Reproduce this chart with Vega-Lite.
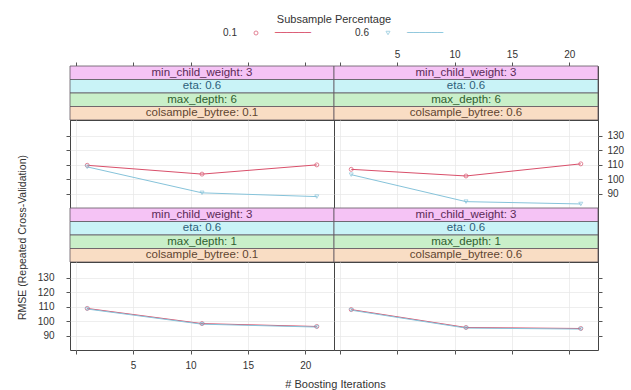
{
  "$schema": "https://vega.github.io/schema/vega-lite/v6.json",
  "padding": {"left": 16, "top": 14, "right": 8, "bottom": 2},
  "background": "white",
  "datasets": {
    "perf": [
      {"depth": 6, "colsample": 0.1, "subsample": "0.1", "iter": 1, "rmse": 109.6},
      {"depth": 6, "colsample": 0.1, "subsample": "0.1", "iter": 11, "rmse": 103.5},
      {"depth": 6, "colsample": 0.1, "subsample": "0.1", "iter": 21, "rmse": 109.9},
      {"depth": 6, "colsample": 0.1, "subsample": "0.6", "iter": 1, "rmse": 108.5},
      {"depth": 6, "colsample": 0.1, "subsample": "0.6", "iter": 11, "rmse": 90.5},
      {"depth": 6, "colsample": 0.1, "subsample": "0.6", "iter": 21, "rmse": 87.9},
      {"depth": 6, "colsample": 0.6, "subsample": "0.1", "iter": 1, "rmse": 106.8},
      {"depth": 6, "colsample": 0.6, "subsample": "0.1", "iter": 11, "rmse": 102.2},
      {"depth": 6, "colsample": 0.6, "subsample": "0.1", "iter": 21, "rmse": 110.6},
      {"depth": 6, "colsample": 0.6, "subsample": "0.6", "iter": 1, "rmse": 103.1},
      {"depth": 6, "colsample": 0.6, "subsample": "0.6", "iter": 11, "rmse": 84.4},
      {"depth": 6, "colsample": 0.6, "subsample": "0.6", "iter": 21, "rmse": 82.8},
      {"depth": 1, "colsample": 0.1, "subsample": "0.1", "iter": 1, "rmse": 108.8},
      {"depth": 1, "colsample": 0.1, "subsample": "0.1", "iter": 11, "rmse": 98.3},
      {"depth": 1, "colsample": 0.1, "subsample": "0.1", "iter": 21, "rmse": 96.3},
      {"depth": 1, "colsample": 0.1, "subsample": "0.6", "iter": 1, "rmse": 108.4},
      {"depth": 1, "colsample": 0.1, "subsample": "0.6", "iter": 11, "rmse": 97.9},
      {"depth": 1, "colsample": 0.1, "subsample": "0.6", "iter": 21, "rmse": 95.9},
      {"depth": 1, "colsample": 0.6, "subsample": "0.1", "iter": 1, "rmse": 108.0},
      {"depth": 1, "colsample": 0.6, "subsample": "0.1", "iter": 11, "rmse": 95.6},
      {"depth": 1, "colsample": 0.6, "subsample": "0.1", "iter": 21, "rmse": 94.9},
      {"depth": 1, "colsample": 0.6, "subsample": "0.6", "iter": 1, "rmse": 107.6},
      {"depth": 1, "colsample": 0.6, "subsample": "0.6", "iter": 11, "rmse": 95.2},
      {"depth": 1, "colsample": 0.6, "subsample": "0.6", "iter": 21, "rmse": 94.5}
    ],
    "strips": [
      {"depth": 6, "colsample": 0.1, "level": "min_child_weight", "label": "min_child_weight: 3"},
      {"depth": 6, "colsample": 0.1, "level": "eta", "label": "eta: 0.6"},
      {"depth": 6, "colsample": 0.1, "level": "max_depth", "label": "max_depth: 6"},
      {"depth": 6, "colsample": 0.1, "level": "colsample_bytree", "label": "colsample_bytree: 0.1"},
      {"depth": 6, "colsample": 0.6, "level": "min_child_weight", "label": "min_child_weight: 3"},
      {"depth": 6, "colsample": 0.6, "level": "eta", "label": "eta: 0.6"},
      {"depth": 6, "colsample": 0.6, "level": "max_depth", "label": "max_depth: 6"},
      {"depth": 6, "colsample": 0.6, "level": "colsample_bytree", "label": "colsample_bytree: 0.6"},
      {"depth": 1, "colsample": 0.1, "level": "min_child_weight", "label": "min_child_weight: 3"},
      {"depth": 1, "colsample": 0.1, "level": "eta", "label": "eta: 0.6"},
      {"depth": 1, "colsample": 0.1, "level": "max_depth", "label": "max_depth: 1"},
      {"depth": 1, "colsample": 0.1, "level": "colsample_bytree", "label": "colsample_bytree: 0.1"},
      {"depth": 1, "colsample": 0.6, "level": "min_child_weight", "label": "min_child_weight: 3"},
      {"depth": 1, "colsample": 0.6, "level": "eta", "label": "eta: 0.6"},
      {"depth": 1, "colsample": 0.6, "level": "max_depth", "label": "max_depth: 1"},
      {"depth": 1, "colsample": 0.6, "level": "colsample_bytree", "label": "colsample_bytree: 0.6"}
    ],
    "legend": [
      {"subsample": "0.1", "line": "──────"},
      {"subsample": "0.6", "line": "──────"}
    ]
  },
  "vconcat": [
    {
      "width": 528,
      "height": 16,
      "view": {"stroke": null},
      "title": {"text": "Subsample Percentage", "fontSize": 11, "fontWeight": "normal", "font": "Liberation Sans", "color": "#333", "anchor": "middle", "offset": 0},
      "data": {"name": "legend"},
      "encoding": {
        "x": {"field": "subsample", "type": "nominal", "scale": {"type": "band", "domain": ["0.1", "0.6"], "paddingInner": 0, "paddingOuter": 1.0625}, "axis": null},
        "color": {"field": "subsample", "type": "nominal", "scale": {"domain": ["0.1", "0.6"], "range": ["#D94F6A", "#86C3DA"]}, "legend": null}
      },
      "layer": [
        {"mark": {"type": "text", "dx": -38, "fontSize": 10, "font": "Liberation Sans", "color": "#333"}, "encoding": {"text": {"field": "subsample"}, "color": {"value": "#333"}}},
        {"mark": {"type": "point", "filled": false, "size": 16, "strokeWidth": 1, "xOffset": -12}, "encoding": {"shape": {"field": "subsample", "type": "nominal", "scale": {"domain": ["0.1", "0.6"], "range": ["circle", "triangle-down"]}, "legend": null}}},
        {"mark": {"type": "text", "dx": 7, "align": "left", "fontSize": 10, "font": "DejaVu Sans"}, "encoding": {"text": {"field": "line"}}}
      ]
    },
    {
      "columns": 2,
      "spacing": 0,
      "bounds": "flush",
      "resolve": {"scale": {"color": "independent", "fill": "independent", "shape": "independent", "x": "independent", "y": "independent"}},
      "concat": [
        {
          "width": 264, "height": 54,
          "data": {"name": "strips"},
          "transform": [{"filter": "datum.depth == 6 && datum.colsample == 0.1"}],
          "encoding": {"y": {"field": "level", "type": "nominal", "scale": {"domain": ["min_child_weight", "eta", "max_depth", "colsample_bytree"], "paddingInner": 0, "paddingOuter": 0}, "axis": null}},
          "layer": [
            {"mark": {"type": "rect", "stroke": "#5f5560", "strokeWidth": 0.8}, "encoding": {"fill": {"field": "level", "type": "nominal", "scale": {"domain": ["min_child_weight", "eta", "max_depth", "colsample_bytree"], "range": ["#F5C3F5", "#C9F3F7", "#C9EFC9", "#F9DDC4"]}, "legend": null}}},
            {"mark": {"type": "text", "fontSize": 11.5, "font": "Liberation Sans"}, "encoding": {
              "x": {"datum": 11, "type": "quantitative", "scale": {"domain": [-0.5, 22.5], "nice": false, "zero": false}, "axis": {"orient": "top", "values": [0, 5, 10, 15, 20], "labels": false, "grid": false, "title": null}},
              "text": {"field": "label"},
              "color": {"field": "level", "type": "nominal", "scale": {"domain": ["min_child_weight", "eta", "max_depth", "colsample_bytree"], "range": ["#5B2A57", "#2E5F7A", "#2F602F", "#5F4530"]}, "legend": null}}}
          ]
        },
        {
          "width": 264, "height": 54,
          "data": {"name": "strips"},
          "transform": [{"filter": "datum.depth == 6 && datum.colsample == 0.6"}],
          "encoding": {"y": {"field": "level", "type": "nominal", "scale": {"domain": ["min_child_weight", "eta", "max_depth", "colsample_bytree"], "paddingInner": 0, "paddingOuter": 0}, "axis": null}},
          "layer": [
            {"mark": {"type": "rect", "stroke": "#5f5560", "strokeWidth": 0.8}, "encoding": {"fill": {"field": "level", "type": "nominal", "scale": {"domain": ["min_child_weight", "eta", "max_depth", "colsample_bytree"], "range": ["#F5C3F5", "#C9F3F7", "#C9EFC9", "#F9DDC4"]}, "legend": null}}},
            {"mark": {"type": "text", "fontSize": 11.5, "font": "Liberation Sans"}, "encoding": {
              "x": {"datum": 11, "type": "quantitative", "scale": {"domain": [-0.5, 22.5], "nice": false, "zero": false}, "axis": {"orient": "top", "values": [0, 5, 10, 15, 20], "labelExpr": "datum.value == 0 ? '' : datum.label", "labelPadding": 3, "grid": false, "title": null}},
              "text": {"field": "label"},
              "color": {"field": "level", "type": "nominal", "scale": {"domain": ["min_child_weight", "eta", "max_depth", "colsample_bytree"], "range": ["#5B2A57", "#2E5F7A", "#2F602F", "#5F4530"]}, "legend": null}}}
          ]
        },
        {
          "width": 264, "height": 88,
          "data": {"name": "perf"},
          "transform": [{"filter": "datum.depth == 6 && datum.colsample == 0.1"}],
          "encoding": {
            "x": {"field": "iter", "type": "quantitative", "scale": {"domain": [-0.5, 22.5], "nice": false, "zero": false}, "axis": {"values": [0, 5, 10, 15, 20], "grid": true, "ticks": false, "labels": false, "title": null}},
            "y": {"field": "rmse", "type": "quantitative", "scale": {"domain": [80, 141], "nice": false, "zero": false}, "axis": {"orient": "left", "values": [90, 100, 110, 120, 130], "grid": true, "labels": false, "title": null}},
            "color": {"field": "subsample", "type": "nominal", "scale": {"domain": ["0.1", "0.6"], "range": ["#D94F6A", "#86C3DA"]}, "legend": null}
          },
          "layer": [
            {"mark": {"type": "line", "strokeWidth": 1}},
            {"mark": {"type": "point", "filled": false, "size": 16, "strokeWidth": 1}, "encoding": {"shape": {"field": "subsample", "type": "nominal", "scale": {"domain": ["0.1", "0.6"], "range": ["circle", "triangle-down"]}, "legend": null}}}
          ]
        },
        {
          "width": 264, "height": 88,
          "data": {"name": "perf"},
          "transform": [{"filter": "datum.depth == 6 && datum.colsample == 0.6"}],
          "encoding": {
            "x": {"field": "iter", "type": "quantitative", "scale": {"domain": [-0.5, 22.5], "nice": false, "zero": false}, "axis": {"values": [0, 5, 10, 15, 20], "grid": true, "ticks": false, "labels": false, "title": null}},
            "y": {"field": "rmse", "type": "quantitative", "scale": {"domain": [80, 141], "nice": false, "zero": false}, "axis": {"orient": "right", "values": [90, 100, 110, 120, 130], "grid": true, "labelPadding": 5, "title": null}},
            "color": {"field": "subsample", "type": "nominal", "scale": {"domain": ["0.1", "0.6"], "range": ["#D94F6A", "#86C3DA"]}, "legend": null}
          },
          "layer": [
            {"mark": {"type": "line", "strokeWidth": 1}},
            {"mark": {"type": "point", "filled": false, "size": 16, "strokeWidth": 1}, "encoding": {"shape": {"field": "subsample", "type": "nominal", "scale": {"domain": ["0.1", "0.6"], "range": ["circle", "triangle-down"]}, "legend": null}}}
          ]
        },
        {
          "width": 264, "height": 54,
          "data": {"name": "strips"},
          "transform": [{"filter": "datum.depth == 1 && datum.colsample == 0.1"}],
          "encoding": {"y": {"field": "level", "type": "nominal", "scale": {"domain": ["min_child_weight", "eta", "max_depth", "colsample_bytree"], "paddingInner": 0, "paddingOuter": 0}, "axis": null}},
          "layer": [
            {"mark": {"type": "rect", "stroke": "#5f5560", "strokeWidth": 0.8}, "encoding": {"fill": {"field": "level", "type": "nominal", "scale": {"domain": ["min_child_weight", "eta", "max_depth", "colsample_bytree"], "range": ["#F5C3F5", "#C9F3F7", "#C9EFC9", "#F9DDC4"]}, "legend": null}}},
            {"mark": {"type": "text", "fontSize": 11.5, "font": "Liberation Sans"}, "encoding": {
              "text": {"field": "label"},
              "color": {"field": "level", "type": "nominal", "scale": {"domain": ["min_child_weight", "eta", "max_depth", "colsample_bytree"], "range": ["#5B2A57", "#2E5F7A", "#2F602F", "#5F4530"]}, "legend": null}}}
          ]
        },
        {
          "width": 264, "height": 54,
          "data": {"name": "strips"},
          "transform": [{"filter": "datum.depth == 1 && datum.colsample == 0.6"}],
          "encoding": {"y": {"field": "level", "type": "nominal", "scale": {"domain": ["min_child_weight", "eta", "max_depth", "colsample_bytree"], "paddingInner": 0, "paddingOuter": 0}, "axis": null}},
          "layer": [
            {"mark": {"type": "rect", "stroke": "#5f5560", "strokeWidth": 0.8}, "encoding": {"fill": {"field": "level", "type": "nominal", "scale": {"domain": ["min_child_weight", "eta", "max_depth", "colsample_bytree"], "range": ["#F5C3F5", "#C9F3F7", "#C9EFC9", "#F9DDC4"]}, "legend": null}}},
            {"mark": {"type": "text", "fontSize": 11.5, "font": "Liberation Sans"}, "encoding": {
              "text": {"field": "label"},
              "color": {"field": "level", "type": "nominal", "scale": {"domain": ["min_child_weight", "eta", "max_depth", "colsample_bytree"], "range": ["#5B2A57", "#2E5F7A", "#2F602F", "#5F4530"]}, "legend": null}}}
          ]
        },
        {
          "width": 264, "height": 88,
          "data": {"name": "perf"},
          "transform": [{"filter": "datum.depth == 1 && datum.colsample == 0.1"}],
          "encoding": {
            "x": {"field": "iter", "type": "quantitative", "scale": {"domain": [-0.5, 22.5], "nice": false, "zero": false}, "axis": {"orient": "bottom", "values": [0, 5, 10, 15, 20], "labelExpr": "datum.value == 0 ? '' : datum.label", "grid": true, "labelPadding": 6, "title": "# Boosting Iterations", "titleFontSize": 11, "titleX": 265, "titlePadding": 8}},
            "y": {"field": "rmse", "type": "quantitative", "scale": {"domain": [80, 141], "nice": false, "zero": false}, "axis": {"orient": "left", "values": [90, 100, 110, 120, 130], "grid": true, "labelPadding": 12, "title": "RMSE (Repeated Cross-Validation)", "titleFontSize": 10.5, "titleY": -25, "titlePadding": 10}},
            "color": {"field": "subsample", "type": "nominal", "scale": {"domain": ["0.1", "0.6"], "range": ["#D94F6A", "#86C3DA"]}, "legend": null}
          },
          "layer": [
            {"mark": {"type": "line", "strokeWidth": 1}},
            {"mark": {"type": "point", "filled": false, "size": 16, "strokeWidth": 1}, "encoding": {"shape": {"field": "subsample", "type": "nominal", "scale": {"domain": ["0.1", "0.6"], "range": ["circle", "triangle-down"]}, "legend": null}}}
          ]
        },
        {
          "width": 264, "height": 88,
          "data": {"name": "perf"},
          "transform": [{"filter": "datum.depth == 1 && datum.colsample == 0.6"}],
          "encoding": {
            "x": {"field": "iter", "type": "quantitative", "scale": {"domain": [-0.5, 22.5], "nice": false, "zero": false}, "axis": {"orient": "bottom", "values": [0, 5, 10, 15, 20], "grid": true, "labels": false, "title": null}},
            "y": {"field": "rmse", "type": "quantitative", "scale": {"domain": [80, 141], "nice": false, "zero": false}, "axis": {"orient": "right", "values": [90, 100, 110, 120, 130], "grid": true, "labels": false, "title": null}},
            "color": {"field": "subsample", "type": "nominal", "scale": {"domain": ["0.1", "0.6"], "range": ["#D94F6A", "#86C3DA"]}, "legend": null}
          },
          "layer": [
            {"mark": {"type": "line", "strokeWidth": 1}},
            {"mark": {"type": "point", "filled": false, "size": 16, "strokeWidth": 1}, "encoding": {"shape": {"field": "subsample", "type": "nominal", "scale": {"domain": ["0.1", "0.6"], "range": ["circle", "triangle-down"]}, "legend": null}}}
          ]
        }
      ]
    }
  ],
  "spacing": 25,
  "bounds": "flush",
  "resolve": {"scale": {"color": "independent", "shape": "independent", "x": "independent", "y": "independent"}},
  "config": {
    "font": "Liberation Sans",
    "view": {"stroke": "#444", "strokeWidth": 1},
    "axis": {"domain": false, "tickColor": "#555", "tickSize": 4, "labelFont": "Liberation Sans", "labelFontSize": 10, "labelColor": "#333", "titleFont": "Liberation Sans", "titleFontWeight": "normal", "titleColor": "#333", "gridColor": "#E6E6E6", "gridWidth": 0.7}
  }
}
